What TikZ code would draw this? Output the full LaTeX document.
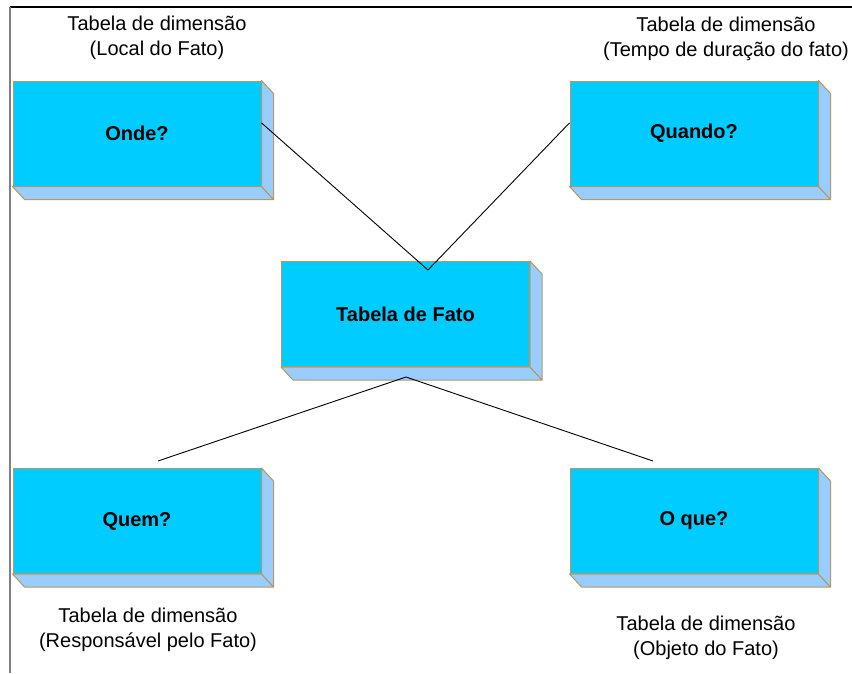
\documentclass[tikz,border=0pt]{standalone}
\usepackage{fontspec}
\setmainfont{Liberation Sans}
\usetikzlibrary{calc}
\definecolor{frontc}{HTML}{00CCFF}
\definecolor{sidec}{HTML}{99CCFF}
\definecolor{edgec}{HTML}{B89860}
\tikzset{
  face/.style={draw=edgec, line width=1pt, fill=frontc, minimum width=248pt, minimum height=105pt, inner sep=0pt, font=\fontsize{20pt}{24pt}\selectfont\bfseries},
  side/.style={draw=edgec, line width=1pt, fill=sidec, line join=round},
  lbl/.style={align=center, inner sep=0pt, font=\fontsize{20pt}{25pt}\selectfont},
  conn/.style={draw=black, line width=0.9pt}
}
\newcommand\depthfaces[1]{%
  \path[side] (#1.south west) -- ($(#1.south west)+(12,13)$) -- ($(#1.south east)+(12,13)$) -- (#1.south east) -- cycle;
  \path[side] (#1.north east) -- ($(#1.north east)+(12,13)$) -- ($(#1.south east)+(12,13)$) -- (#1.south east) -- cycle;
}
\begin{document}
\begin{tikzpicture}[x=1pt, y=-1pt]
\useasboundingbox (0,0) rectangle (852,673);
\fill[white] (0,0) rectangle (852,673);
% frame
\draw[black, line width=1.5pt] (10,7) -- (852,7);
\draw[gray, line width=1.8pt] (10,7) -- (10,673);

% boxes
\node[face] (onde) at (137,133.5) {Onde?};
\node[face] (quando) at (694,133.5) {Quando?};
\node[face] (fato) at (405.5,314) {Tabela de Fato};
\node[face] (quem) at (137,521) {Quem?};
\node[face] (oque) at (694,521) {O que?};
\depthfaces{onde}
\depthfaces{quando}
\depthfaces{fato}
\depthfaces{quem}
\depthfaces{oque}

% labels
\node[lbl] (londe) at (157,38) {Tabela de dimensão\\(Local do Fato)};
\node[lbl] (lquando) at (726,39) {Tabela de dimensão\\(Tempo de duração do fato)};
\node[lbl] (lquem) at (148,630) {Tabela de dimensão\\(Responsável pelo Fato)};
\node[lbl] (loque) at (706,638) {Tabela de dimensão\\(Objeto do Fato)};

% connectors
\coordinate (ondep) at ($(onde.north east)!0.4!(onde.south east)$);
\coordinate (quandop) at ($(quando.north west)!0.4!(quando.south west)$);
\coordinate (mt) at (428,270);
\coordinate (mb) at (406,377);
\coordinate (qe) at (158,461);
\coordinate (oq) at (653,461);
\draw[conn] (ondep) -- (mt);
\draw[conn] (quandop) -- (mt);
\draw[conn] (mb) -- (qe);
\draw[conn] (mb) -- (oq);
\end{tikzpicture}
\end{document}
